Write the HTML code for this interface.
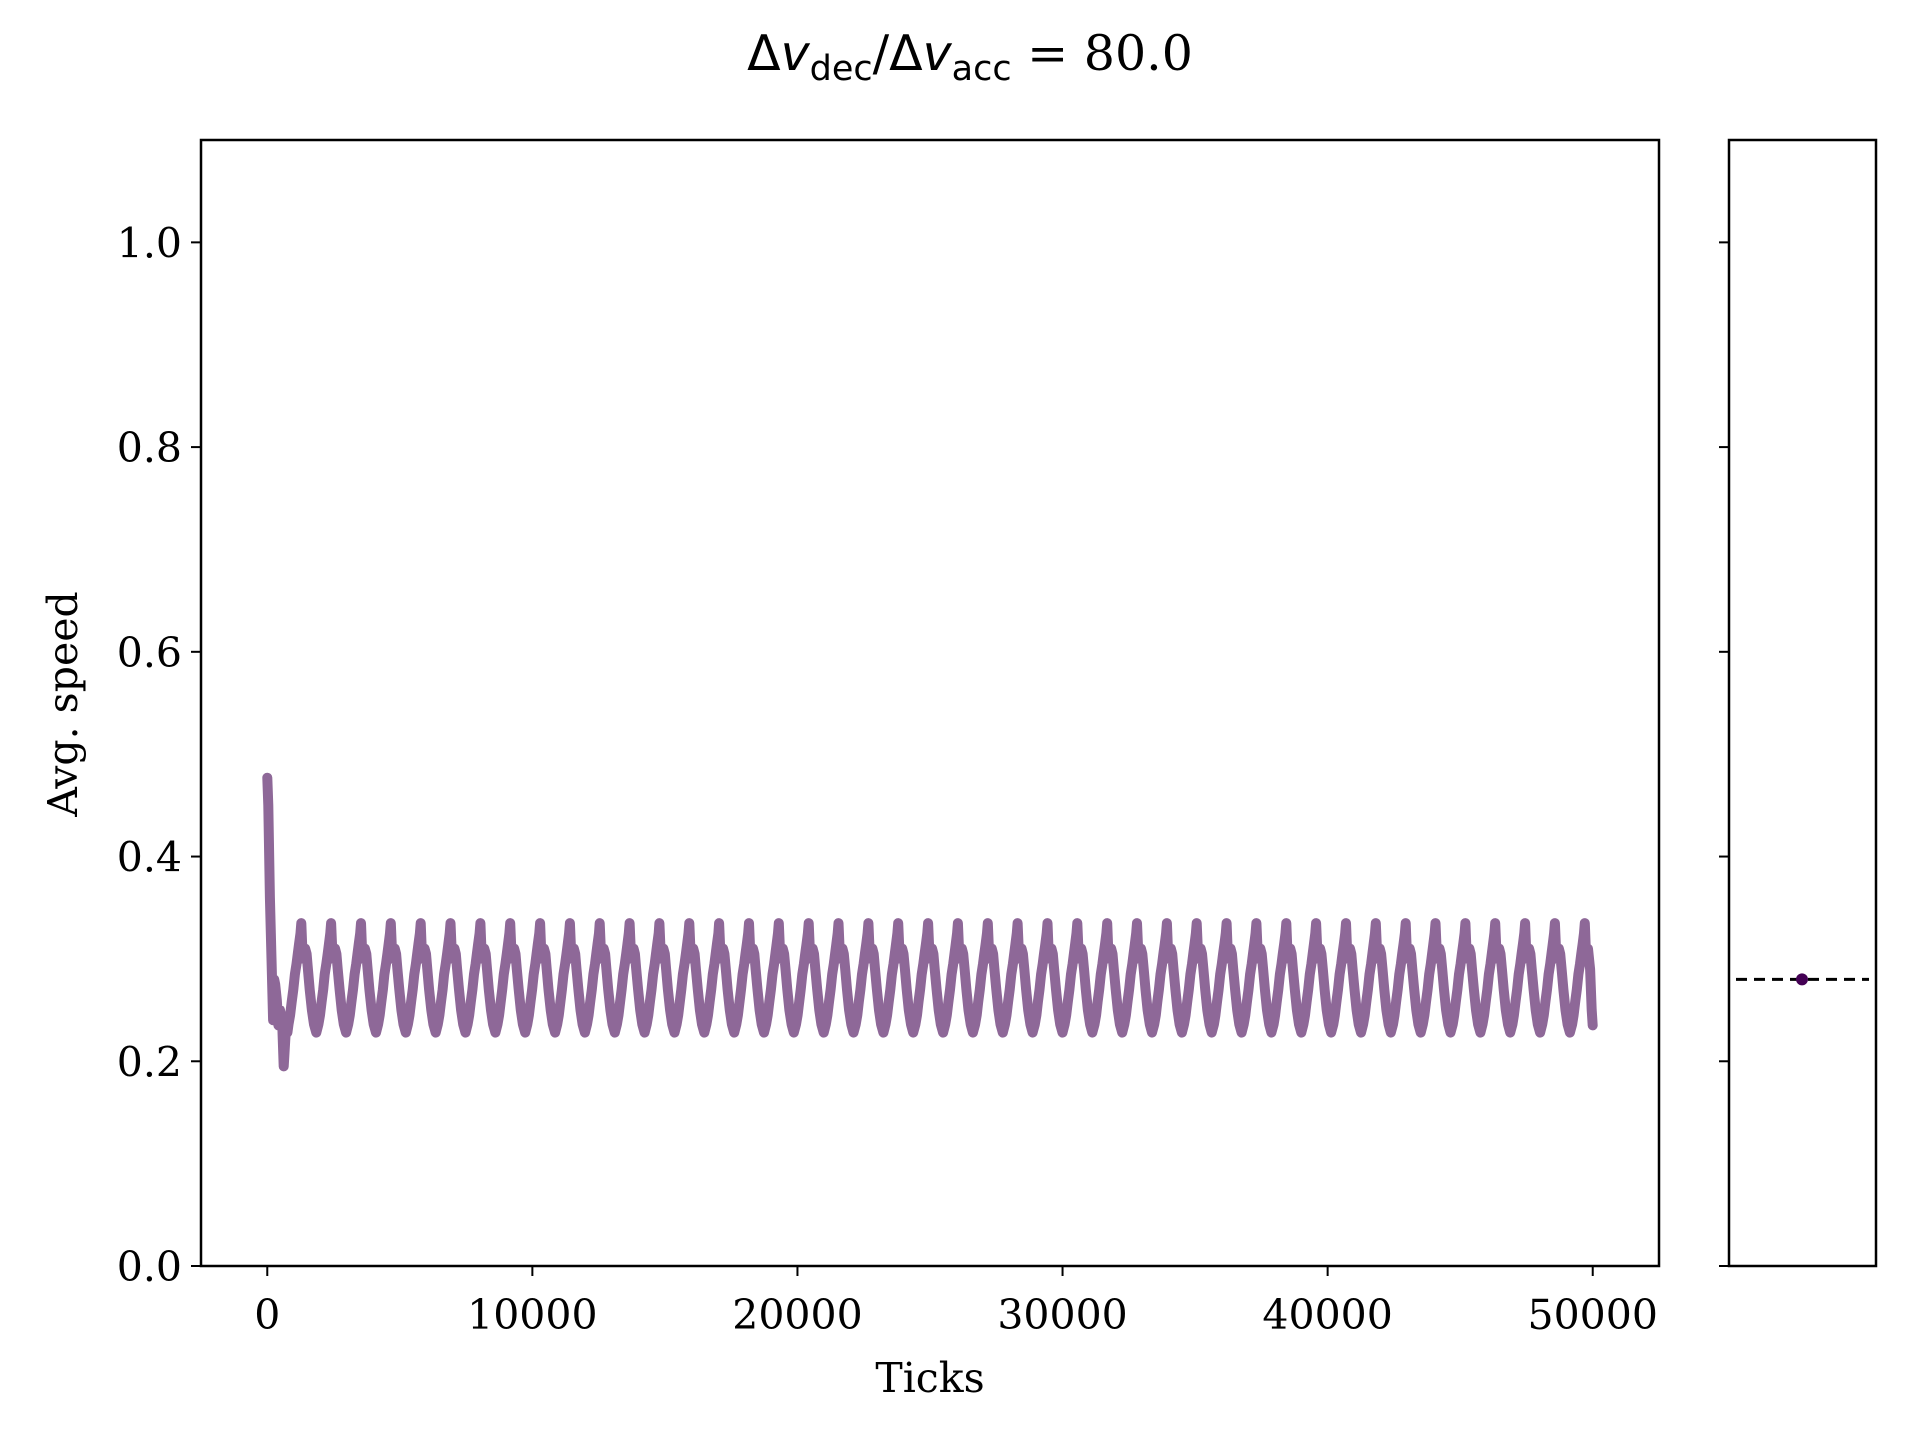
<!DOCTYPE html>
<html><head><meta charset="utf-8"><style>
html,body{margin:0;padding:0;background:#fff;}
svg{display:block;}
text{font-family:"DejaVu Serif","Liberation Serif",serif;fill:#000;}
</style></head><body>
<svg id="chart" width="1920" height="1440" viewBox="0 0 1920 1440" xmlns="http://www.w3.org/2000/svg">
<text x="970" y="70" text-anchor="middle" font-size="49"><tspan font-family="DejaVu Sans, sans-serif">Δ</tspan><tspan font-family="DejaVu Sans, sans-serif" font-style="oblique">v</tspan><tspan font-family="DejaVu Sans, sans-serif" font-size="35" dy="10">dec</tspan><tspan font-family="DejaVu Sans, sans-serif" dy="-10">/Δ</tspan><tspan font-family="DejaVu Sans, sans-serif" font-style="oblique">v</tspan><tspan font-family="DejaVu Sans, sans-serif" font-size="35" dy="10">acc</tspan><tspan dy="-10"> = 80.0</tspan></text>
<g id="main"></g>
<g id="side"></g>
<text x="930" y="1392" text-anchor="middle" font-size="41">Ticks</text>
<text transform="translate(77,704) rotate(-90)" text-anchor="middle" font-size="41">Avg. speed</text>
</svg>
<script>
const xTickValues = [0, 10000, 20000, 30000, 40000, 50000];
const xTickLabels = ["0", "10000", "20000", "30000", "40000", "50000"];
const yTickValues = [0.0, 0.2, 0.4, 0.6, 0.8, 1.0];
const yTickLabels = ["0.0", "0.2", "0.4", "0.6", "0.8", "1.0"];
// transient start
const startTicks = [0, 40, 100, 160, 220, 260, 300, 360, 420, 480, 560, 620, 700, 760];
const startSpeeds = [0.477, 0.45, 0.36, 0.30, 0.24, 0.28, 0.275, 0.26, 0.235, 0.25, 0.24, 0.195, 0.23, 0.228];
// oscillation cycle shape (offset from peak in ticks, speed)
const cycleOffsets = [-560, -480, -420, -360, -300, -240, -180, -130, -80, -30, 0, 40, 90, 150, 200, 250, 320, 400, 480];
const cycleSpeeds = [0.228, 0.236, 0.245, 0.258, 0.27, 0.285, 0.295, 0.305, 0.315, 0.325, 0.335, 0.31, 0.30, 0.31, 0.305, 0.29, 0.27, 0.25, 0.236];
const peakTicks = [1282,2408,3534,4660,5786,6912,8038,9164,10290,11416,12542,13668,14794,15920,17046,18172,19298,20424,21550,22676,23802,24928,26054,27180,28306,29432,30558,31684,32810,33936,35062,36188,37314,38440,39566,40692,41818,42944,44070,45196,46322,47448,48574,49700];
const endTicks = [49820, 49900, 49960, 50000];
const endSpeeds = [0.31, 0.29, 0.25, 0.235];
const meanValue = 0.28;

const NS = "http://www.w3.org/2000/svg";
const L = 201, R = 1659, T = 140, B = 1266;
const xMin = -2500, xMax = 52500, yMin = 0, yMax = 1.1;
const xs = v => L + (v - xMin) / (xMax - xMin) * (R - L);
const ys = v => B - (v - yMin) / (yMax - yMin) * (B - T);
function mk(tag, attrs, parent) { const e = document.createElementNS(NS, tag); for (const k in attrs) e.setAttribute(k, attrs[k]); parent.appendChild(e); return e; }
const main = document.getElementById('main');
const side = document.getElementById('side');

let pts = [];
startTicks.forEach((t, i) => pts.push([t, startSpeeds[i]]));
peakTicks.forEach(p => cycleOffsets.forEach((o, i) => { if (p + o > 760 && p + o < 49820) pts.push([p + o, cycleSpeeds[i]]); }));
endTicks.forEach((t, i) => pts.push([t, endSpeeds[i]]));
const line = mk('path', {d: pts.map((p, i) => (i ? 'L' : 'M') + xs(p[0]).toFixed(1) + ' ' + ys(p[1]).toFixed(1)).join(''), fill: 'none', stroke: '#8e6898', 'stroke-width': 10, 'stroke-linejoin': 'round', 'stroke-linecap': 'round'}, main);



const frame = mk('rect', {x: L, y: T, width: R - L, height: B - T, fill: 'none', stroke: '#000', 'stroke-width': 2.5}, main);



xTickValues.forEach((v, i) => {
  const x = xs(v);
  const tk = mk('line', {x1: x, x2: x, y1: B, y2: B + 10, stroke: '#000', 'stroke-width': 2}, main);
  
  
  const tx = mk('text', {x: x, y: B + 63, 'text-anchor': 'middle', 'font-size': 41}, main);
  tx.textContent = xTickLabels[i];
  
  
});
yTickValues.forEach((v, i) => {
  const y = ys(v);
  const tk = mk('line', {x1: L - 10, x2: L, y1: y, y2: y, stroke: '#000', 'stroke-width': 2}, main);
  
  
  const tx = mk('text', {x: L - 19, y: y + 15, 'text-anchor': 'end', 'font-size': 41}, main);
  tx.textContent = yTickLabels[i];
  
  
  const st = mk('line', {x1: 1719, x2: 1729, y1: y, y2: y, stroke: '#000', 'stroke-width': 2}, side);
  
  
});

const sL = 1729, sR = 1876;
const dash = mk('line', {x1: 1736, x2: 1869, y1: ys(meanValue), y2: ys(meanValue), stroke: '#000', 'stroke-width': 3, 'stroke-dasharray': '11 7'}, side);


const dot = mk('circle', {cx: 1802, cy: ys(meanValue), r: 6, fill: '#440154'}, side);


const sframe = mk('rect', {x: sL, y: T, width: sR - sL, height: B - T, fill: 'none', stroke: '#000', 'stroke-width': 2.5}, side);


</script>
</body></html>
